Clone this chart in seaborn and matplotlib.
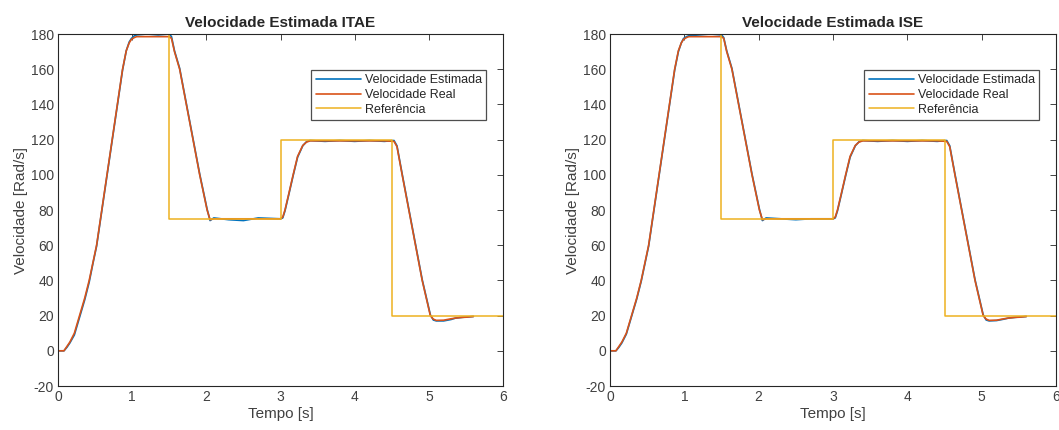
import numpy as np
import pandas as pd
import matplotlib
matplotlib.use("Agg")
import matplotlib.pyplot as plt
import seaborn as sns

# Tempo [s] e velocidade real
tempo = [0.00, 0.08, 0.12, 0.16, 0.22, 0.29, 0.36, 0.42, 0.47, 0.52, 0.59,
         0.66, 0.73, 0.80, 0.87, 0.92, 0.96, 0.99, 1.03, 1.06, 1.20, 1.35,
         1.50, 1.53, 1.57, 1.64, 1.73, 1.82, 1.91, 2.01, 2.05, 2.10, 2.30,
         2.50, 2.70, 3.00, 3.03, 3.06, 3.11, 3.17, 3.23, 3.30, 3.35, 3.40,
         3.60, 3.80, 4.00, 4.20, 4.40, 4.53, 4.57, 4.64, 4.73, 4.82, 4.91,
         5.02, 5.06, 5.10, 5.20, 5.30, 5.36, 5.45, 5.50, 5.60]
vel_real = [0.0, 0.0, 2.5, 5.0, 10.0, 20.0, 30.0, 40.0, 50.0, 60.0, 80.0,
            100.0, 120.0, 140.0, 160.0, 170.5, 175.0, 177.0, 178.0, 178.5, 178.5, 178.5,
            178.5, 177.5, 170.0, 160.0, 140.0, 120.0, 100.0, 80.0, 74.5, 75.0, 75.0,
            75.0, 75.0, 75.0, 76.0, 80.0, 89.0, 100.0, 110.5, 116.7, 118.6, 119.3,
            119.3, 119.3, 119.3, 119.3, 119.3, 119.0, 116.0, 100.0, 80.0, 60.0, 40.0,
            20.0, 18.0, 17.3, 17.4, 18.2, 18.6, 19.0, 19.1, 19.5]

# Velocidade estimada (pequenos desvios em relação à real)
vel_est_itae = [0.0, 0.0, 2.0, 4.5, 9.0, 19.0, 29.0, 39.0, 49.5, 59.5, 79.5,
                99.5, 119.5, 139.5, 159.5, 170.5, 175.5, 177.5, 179.0, 179.5, 180.0, 179.5,
                180.0, 178.5, 170.5, 160.5, 140.5, 120.5, 100.5, 80.5, 74.0, 75.5, 74.5,
                74.0, 75.5, 75.0, 75.5, 79.5, 88.5, 99.5, 110.0, 116.5, 118.8, 119.5,
                119.0, 119.5, 119.0, 119.5, 119.0, 119.5, 116.5, 100.5, 80.5, 60.5, 40.5,
                20.5, 17.5, 17.0, 17.0, 17.8, 18.6, 19.0, 19.2, 19.5]
vel_est_ise = [0.0, 0.0, 2.0, 4.5, 9.5, 19.5, 29.5, 39.5, 49.5, 59.5, 79.5,
               99.5, 119.5, 139.5, 159.5, 170.0, 175.0, 177.5, 178.5, 179.0, 179.5, 180.0,
               179.5, 178.0, 170.5, 160.5, 140.5, 120.5, 100.5, 80.5, 74.0, 75.5, 75.0,
               74.5, 75.0, 75.0, 75.5, 79.5, 88.5, 99.5, 110.0, 116.5, 118.8, 119.5,
               119.0, 119.5, 119.0, 119.5, 119.0, 119.5, 116.5, 100.5, 80.5, 60.5, 40.5,
               20.5, 17.5, 17.0, 17.2, 18.0, 18.6, 19.0, 19.2, 19.5]

# Referência (degraus)
tempo_ref = [0.0, 1.5, 1.5, 3.0, 3.0, 4.5, 4.5, 6.0]
vel_ref = [180, 180, 75, 75, 120, 120, 20, 20]

titulos = ["Velocidade Estimada ITAE", "Velocidade Estimada ISE"]
estimadas = [vel_est_itae, vel_est_ise]

sns.set_style("white")
plt.rcParams['font.family'] = ['Liberation Sans', 'DejaVu Sans']
plt.rcParams['axes.unicode_minus'] = False

cor_est = "#0072BD"
cor_real = "#D95319"
cor_ref = "#EDB120"
cinza = "#262626"
cinza_txt = "#404040"

fig = plt.figure(figsize=(10.59, 4.30), dpi=100)
posicoes = [[0.0548, 0.1023, 0.4202, 0.8186], [0.5760, 0.1023, 0.4212, 0.8186]]

for pos, titulo, est in zip(posicoes, titulos, estimadas):
    ax = fig.add_axes(pos)
    df = pd.DataFrame({"t": tempo, "est": est, "real": vel_real})
    dref = pd.DataFrame({"t": tempo_ref, "ref": vel_ref})
    sns.lineplot(data=df, x="t", y="est", ax=ax, color=cor_est, lw=1.2,
                 estimator=None, sort=False, label="Velocidade Estimada")
    sns.lineplot(data=df, x="t", y="real", ax=ax, color=cor_real, lw=1.2,
                 estimator=None, sort=False, label="Velocidade Real")
    sns.lineplot(data=dref, x="t", y="ref", ax=ax, color=cor_ref, lw=1.1,
                 estimator=None, sort=False, label="Referência")
    ax.set_xlim(0, 6)
    ax.set_ylim(-20, 180)
    ax.set_xticks(np.arange(0, 7, 1))
    ax.set_yticks(np.arange(-20, 181, 20))
    ax.tick_params(direction="in", top=True, right=True, length=4, width=0.6,
                   colors=cinza, labelcolor=cinza_txt, labelsize=10, pad=3)
    for s in ax.spines.values():
        s.set_color(cinza)
        s.set_linewidth(0.8)
    ax.set_xlabel("Tempo [s]", fontsize=11, color=cinza_txt, labelpad=2)
    ax.set_ylabel("Velocidade [Rad/s]", fontsize=11, color=cinza_txt, labelpad=2)
    ax.set_title(titulo, fontsize=11, fontweight="bold", pad=5)
    leg = ax.legend(loc="upper right", bbox_to_anchor=(0.962, 0.898), fontsize=9,
                    frameon=True, fancybox=False, handlelength=3.6, borderpad=0.35,
                    labelspacing=0.22, handletextpad=0.3, borderaxespad=0)
    leg.get_frame().set_edgecolor("#222222")
    leg.get_frame().set_linewidth(0.9)

fig.savefig("out.png", dpi=100)
